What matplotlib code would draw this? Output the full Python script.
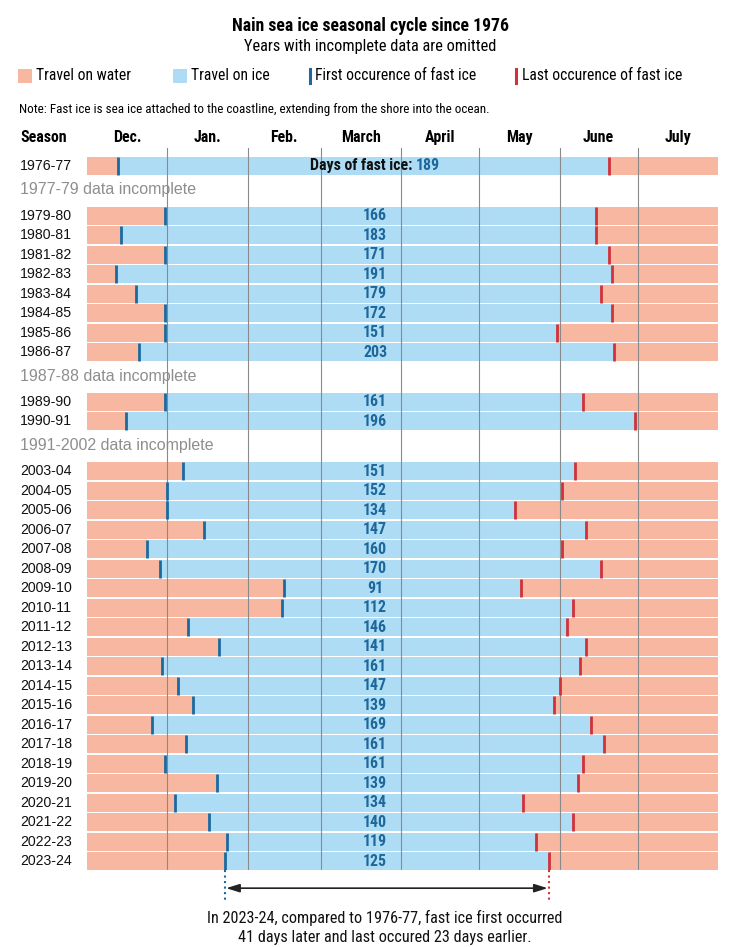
"""
Nain sea ice seasonal cycle since 1976 -- horizontal timeline chart.
"""

import datetime as dt

import matplotlib
matplotlib.use("Agg")
import matplotlib.pyplot as plt
from matplotlib import font_manager, transforms
from matplotlib.lines import Line2D
from matplotlib.patches import Rectangle


# =============================================================================
# Data
# =============================================================================

SEASONS = [
    "1976-77",
    "1979-80", "1980-81", "1981-82", "1982-83", "1983-84", "1984-85",
    "1985-86", "1986-87",
    "1989-90", "1990-91",
    "2003-04", "2004-05", "2005-06", "2006-07", "2007-08", "2008-09",
    "2009-10", "2010-11", "2011-12", "2012-13", "2013-14", "2014-15",
    "2015-16", "2016-17", "2017-18", "2018-19", "2019-20", "2020-21",
    "2021-22", "2022-23", "2023-24",
]

# first occurrence of fast ice (month-day)
FIRST_ICE = [
    "12-13",
    "12-31", "12-14", "12-31", "12-12", "12-20", "12-31",
    "12-31", "12-21",
    "12-31", "12-16",
    "01-07", "01-01", "01-01", "01-15", "12-24", "12-29",
    "02-15", "02-14", "01-09", "01-21", "12-30", "01-05",
    "01-11", "12-26", "01-08", "12-31", "01-20", "01-04",
    "01-17", "01-24", "01-23",
]

# last occurrence of fast ice (month-day)
LAST_ICE = [
    "06-20",
    "06-15", "06-15", "06-20", "06-21", "06-17", "06-21",
    "05-31", "06-22",
    "06-10", "06-30",
    "06-07", "06-02", "05-15", "06-11", "06-02", "06-17",
    "05-17", "06-06", "06-04", "06-11", "06-09", "06-01",
    "05-30", "06-13", "06-18", "06-10", "06-08", "05-18",
    "06-06", "05-23", "05-28",
]

ICE_DAYS = [
    189,
    166, 183, 171, 191, 179, 172,
    151, 203,
    161, 196,
    151, 152, 134, 147, 160, 170,
    91, 112, 146, 141, 161, 147,
    139, 169, 161, 161, 139, 134,
    140, 119, 125,
]

# label shown in the empty row before these seasons
GAPS = {
    "1979-80": "1977-79 data incomplete",
    "1989-90": "1987-88 data incomplete",
    "2003-04": "1991-2002 data incomplete",
}

MONTHS = ["Dec.", "Jan.", "Feb.", "March", "April", "May", "June", "July"]
MONTH_NUMS = [12, 1, 2, 3, 4, 5, 6, 7]


# =============================================================================
# Style
# =============================================================================

W, H = 740, 947
WATER = "#f7b7a1"
ICE = "#aedcf4"
BLUE = "#1a6aa0"
RED = "#d0313a"
NUM_BLUE = "#1c679b"
GRID = "#8a8a8a"
GREY_TXT = "#8e8e8e"

REGULAR = ["Liberation Sans", "DejaVu Sans"]

ROW_H = 0.92
GAP_STEP = 2.55
LABEL_DAY = 111


def pick_narrow():
    """Find a condensed sans if one is installed, else a compact fallback."""
    fonts = font_manager.fontManager.ttflist
    names = {f.name for f in fonts}
    for n in ["Liberation Sans Narrow", "Roboto Condensed", "Open Sans Condensed",
              "Noto Sans Condensed", "DejaVu Sans Condensed", "Arial Narrow"]:
        if n in names:
            return n, "normal"
    for fam in ["Roboto", "Noto Sans", "Open Sans", "DejaVu Sans"]:
        for f in fonts:
            if f.name == fam and "condensed" in str(f.stretch) and "semi" not in str(f.stretch):
                return fam, "condensed"
    for n in ["Roboto", "Liberation Sans"]:
        if n in names:
            return n, "normal"
    return "DejaVu Sans", "normal"


NARROW_NAME, NARROW_STRETCH = pick_narrow()
NARROW = dict(family=[NARROW_NAME, "DejaVu Sans"], fontstretch=NARROW_STRETCH)


def season_day(md):
    """Days since Dec 1 for a 'MM-DD' string."""
    m, d = (int(v) for v in md.split("-"))
    year = 2001 if m == 12 else 2002
    return (dt.date(year, m, d) - dt.date(2001, 12, 1)).days


def month_start(m):
    year = 2001 if m == 12 else 2002
    return (dt.date(year, m, 1) - dt.date(2001, 12, 1)).days


def px_y(y):
    return 1 - y / H


def fit_width(fig, txt, width_px, others=()):
    """Scale a text's font size so it spans width_px; copy size to others."""
    r = fig.canvas.get_renderer()
    w = txt.get_window_extent(renderer=r).width
    size = txt.get_fontsize() * width_px / w
    for t in (txt, *others):
        t.set_fontsize(size)


def main():
    first = [season_day(v) for v in FIRST_ICE]
    last = [season_day(v) for v in LAST_ICE]
    starts = [month_start(m) for m in MONTH_NUMS] + [month_start(8)]
    end = starts[-1]

    # row positions (row units, top to bottom)
    ys, gap_ys = [], []
    pos = 0.0
    for i, s in enumerate(SEASONS):
        if i > 0:
            if s in GAPS:
                gap_ys.append((pos + 1.23, GAPS[s]))
                pos += GAP_STEP
            else:
                pos += 1
        ys.append(pos)

    fig = plt.figure(figsize=(W / 100, H / 100), dpi=100)
    top_px, bot_px = 148, 870
    row_px = 19.5
    ax = fig.add_axes([87 / W, px_y(bot_px), 631 / W, (bot_px - top_px) / H])
    ax.set_xlim(0, end)
    ax.set_ylim((bot_px - 166) / row_px, (top_px - 166) / row_px)
    ax.axis("off")

    # bars
    ice_len = [b - a for a, b in zip(first, last)]
    tail = [end - b for b in last]
    ax.barh(ys, first, left=0, height=ROW_H, color=WATER, zorder=1)
    ax.barh(ys, ice_len, left=first, height=ROW_H, color=ICE, zorder=1)
    ax.barh(ys, tail, left=last, height=ROW_H, color=WATER, zorder=1)
    lo = [y - ROW_H / 2 for y in ys]
    hi = [y + ROW_H / 2 for y in ys]
    ax.vlines(first, lo, hi, color=BLUE, lw=2.0, zorder=4)
    ax.vlines(last, lo, hi, color=RED, lw=2.0, zorder=4)

    # month gridlines, drawn over the bars
    for x in starts[1:-1]:
        ax.axvline(x, color=GRID, lw=0.8, zorder=3)

    # month headers
    head_y = (138 - 166) / row_px
    heads = []
    for name, a, b in zip(MONTHS, starts[:-1], starts[1:]):
        heads.append(ax.text((a + b) / 2, head_y, name, ha="center", va="center",
                             fontsize=12, fontweight="bold", clip_on=False, **NARROW))

    # left-hand labels
    left_tr = transforms.blended_transform_factory(fig.transFigure, ax.transData)
    t_season = ax.text(20 / W, head_y, "Season", transform=left_tr, ha="left",
                       va="center", fontsize=12, fontweight="bold", **NARROW)
    for s, y in zip(SEASONS, ys):
        ax.text(20 / W, y, s, transform=left_tr, ha="left", va="center",
                fontsize=10.2, family=REGULAR, color="#111111")
    for y, txt in gap_ys:
        ax.text(20 / W, y, txt, transform=left_tr, ha="left", va="center",
                fontsize=11.5, family=REGULAR, color=GREY_TXT, zorder=2)

    # days of fast ice
    nums = []
    prefix = None
    for i, (n, y) in enumerate(zip(ICE_DAYS, ys)):
        if i == 0:
            prefix = ax.annotate("Days of fast ice:", (LABEL_DAY, y), xytext=(37, 0),
                                 textcoords="offset pixels", ha="right", va="center",
                                 fontsize=12, fontweight="bold", color="#111111",
                                 zorder=5, **NARROW)
            nums.append(ax.annotate(str(n), (LABEL_DAY, y), xytext=(41, 0),
                                    textcoords="offset pixels", ha="left", va="center",
                                    fontsize=12, fontweight="bold", color=NUM_BLUE,
                                    zorder=5, **NARROW))
        else:
            nums.append(ax.text(LABEL_DAY, y, str(n), ha="center", va="center",
                                fontsize=12, fontweight="bold", color=NUM_BLUE,
                                zorder=5, **NARROW))

    # comparison marker under the last row
    y_last = ys[-1]
    y_dot = y_last + (902 - 862) / row_px
    y_arr = y_last + (889 - 862) / row_px
    ax.plot([first[-1]] * 2, [y_last + ROW_H / 2, y_dot], ls=":", lw=1.5,
            color=BLUE, clip_on=False)
    ax.plot([last[-1]] * 2, [y_last + ROW_H / 2, y_dot], ls=":", lw=1.5,
            color=RED, clip_on=False)
    ax.annotate("", xy=(first[-1] + 0.6, y_arr), xytext=(last[-1] - 0.6, y_arr),
                arrowprops=dict(arrowstyle="<|-|>,head_length=0.8,head_width=0.25",
                                color="#222222", lw=1.2, shrinkA=0, shrinkB=0),
                annotation_clip=False)
    foot1 = fig.text(385 / W, px_y(918),
                     "In 2023-24, compared to 1976-77, fast ice first occurred",
                     ha="center", va="center", fontsize=13, color="#111111", **NARROW)
    foot2 = fig.text(385 / W, px_y(937),
                     "41 days later and last occured 23 days earlier.",
                     ha="center", va="center", fontsize=13, color="#111111", **NARROW)

    # title block
    title = fig.text(0.5, px_y(26), "Nain sea ice seasonal cycle since 1976",
                     ha="center", va="center", fontsize=13.2, fontweight="bold",
                     **NARROW)
    subtitle = fig.text(0.5, px_y(46), "Years with incomplete data are omitted",
                        ha="center", va="center", fontsize=12.8, **NARROW)

    # legend
    ly = 76
    for x0, col in [(18, WATER), (173, ICE)]:
        fig.add_artist(Rectangle((x0 / W, px_y(ly + 7)), 14 / W, 14 / H,
                                 transform=fig.transFigure, color=col, lw=0))
    for x0, col in [(310, BLUE), (516, RED)]:
        fig.add_artist(Line2D([x0 / W] * 2, [px_y(ly - 7), px_y(ly + 7)],
                              transform=fig.transFigure, color=col, lw=2.2))
    leg = []
    for x0, txt in [(36, "Travel on water"), (191, "Travel on ice"),
                    (315, "First occurence of fast ice"),
                    (522, "Last occurence of fast ice")]:
        leg.append(fig.text(x0 / W, px_y(ly), txt, ha="left", va="center",
                            fontsize=12.5, **NARROW))

    note = fig.text(19 / W, px_y(109),
                    "Note: Fast ice is sea ice attached to the coastline, extending "
                    "from the shore into the ocean.",
                    ha="left", va="center", fontsize=9.3, **NARROW)

    # match the reference text widths whatever condensed face was found
    fit_width(fig, title, 277)
    fit_width(fig, subtitle, 253)
    fit_width(fig, leg[2], 162, others=leg)
    fit_width(fig, note, 471)
    fit_width(fig, heads[3], 40, others=heads + [t_season])
    fit_width(fig, nums[1], 24, others=nums + [prefix])
    fit_width(fig, foot1, 355, others=[foot2])

    fig.savefig("out.png", dpi=100, facecolor="white")


if __name__ == "__main__":
    main()
